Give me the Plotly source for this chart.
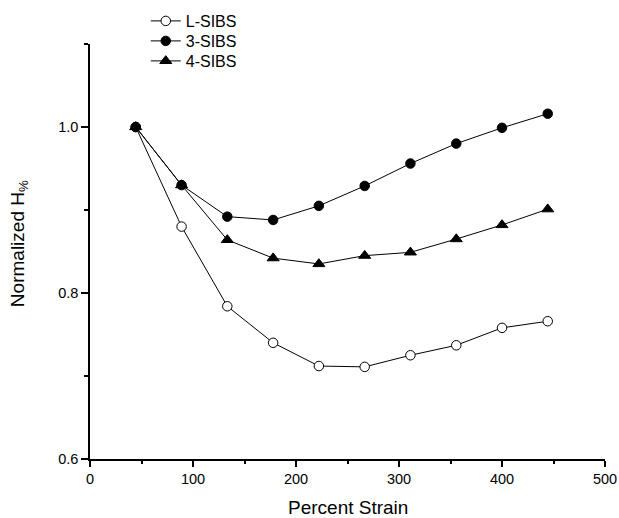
import plotly.graph_objects as go

strain = [44.4, 88.9, 133.3, 177.8, 222.2, 266.7, 311.1, 355.6, 400.0, 444.4]
l_sibs = [1.000, 0.880, 0.784, 0.740, 0.712, 0.711, 0.725, 0.737, 0.758, 0.766]
s3_sibs = [1.000, 0.930, 0.892, 0.888, 0.905, 0.929, 0.956, 0.980, 0.999, 1.016]
s4_sibs = [1.000, 0.930, 0.864, 0.842, 0.835, 0.845, 0.849, 0.865, 0.882, 0.901]

x_ticks = [0, 100, 200, 300, 400, 500]
y_ticks = [0.6, 0.8, 1.0]

fig = go.Figure()
common_line = dict(color="black", width=1)
fig.add_trace(go.Scatter(x=strain, y=l_sibs, name="L-SIBS", mode="lines+markers",
                         line=common_line, legend="legend",
                         marker=dict(symbol="circle", size=9.5, color="white",
                                     line=dict(color="black", width=1))))
fig.add_trace(go.Scatter(x=strain, y=s3_sibs, name="3-SIBS", mode="lines+markers",
                         line=common_line, legend="legend2",
                         marker=dict(symbol="circle", size=9.5, color="black",
                                     line=dict(color="black", width=1))))
fig.add_trace(go.Scatter(x=strain, y=s4_sibs, name="4-SIBS", mode="lines+markers",
                         line=common_line, legend="legend3",
                         marker=dict(symbol="triangle-up", size=10.5, color="black",
                                     line=dict(color="black", width=1))))

font_family = "Liberation Sans, Arial, sans-serif"
W, H = 619, 518


def leg(top_px):
    return dict(xref="container", yref="container", x=0.2355, y=1 - top_px / H,
                xanchor="left", yanchor="top", bgcolor="rgba(0,0,0,0)",
                font=dict(size=16), itemwidth=30)


fig.update_layout(
    width=W, height=H,
    margin=dict(l=90, r=14, t=44, b=59, autoexpand=False),
    paper_bgcolor="white", plot_bgcolor="white",
    font=dict(family=font_family, color="black", size=14),
    showlegend=True,
    legend=leg(4), legend2=leg(24), legend3=leg(44),
    xaxis=dict(range=[0, 500], tickvals=x_ticks, ticktext=[str(v) for v in x_ticks],
               showgrid=False, zeroline=False, showline=True, linecolor="black",
               linewidth=1.5, ticks="outside", ticklen=6, tickwidth=1.5, tickcolor="black",
               minor=dict(dtick=50, ticks="outside", ticklen=3, tickwidth=1.5,
                          tickcolor="black", showgrid=False),
               tickfont=dict(size=14.5)),
    yaxis=dict(range=[0.6, 1.1], tickvals=y_ticks, ticktext=["0.6", "0.8", "1.0"],
               showgrid=False, zeroline=False, showline=True, linecolor="black",
               linewidth=1.5, ticks="outside", ticklen=7, tickwidth=1.5, tickcolor="black",
               minor=dict(tickvals=[0.7, 0.9, 1.1], ticks="outside", ticklen=4, tickwidth=1.5,
                          tickcolor="black", showgrid=False),
               tickfont=dict(size=14.5)),
    annotations=[
        dict(text="Percent Strain", xref="paper", yref="paper", x=0.5, y=-0.118,
             xanchor="center", yanchor="middle", showarrow=False, font=dict(size=19)),
        dict(text="Normalized H<sub>%</sub>", xref="paper", yref="paper", x=-0.138, y=0.52,
             xanchor="center", yanchor="middle", textangle=-90, showarrow=False,
             font=dict(size=19)),
    ],
)

fig.write_html(
    "out.html",
    config={"displayModeBar": False},
    post_script="document.body.style.margin='0';document.body.style.overflow='hidden';",
)
